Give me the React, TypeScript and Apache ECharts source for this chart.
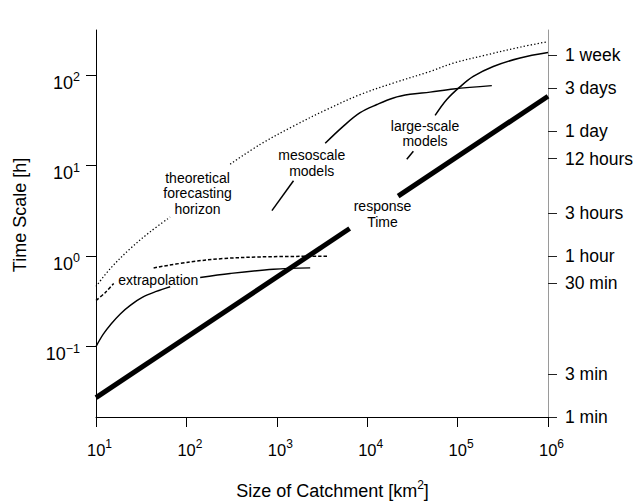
import React, { useEffect, useRef } from 'react';
import * as echarts from 'echarts';

const X_MIN = 10;
const X_MAX = 1e6;
const Y_MIN = 1 / 60;
const Y_MAX = 316;

// response time (thick line, broken for its label)
const responseLow = [[10, 0.0273], [6400, 2.02]];
const responseHigh = [[22000, 4.6], [1e6, 58.5]];

// theoretical forecasting horizon (dotted)
const horizonLow = [[10, 0.462], [14.4, 0.729], [23.9, 1.21], [39.8, 1.86], [66, 2.7]];
const horizonHigh = [[305, 10.4], [656, 17.2], [1530, 27.4], [3580, 41.8], [8360, 61.1], [19500, 82], [49700, 110], [89800, 136], [210000, 168], [491000, 204], [1e6, 235]];

// extrapolation upper bound (dashed)
const extrapDashLow = [[10, 0.324], [12.7, 0.397], [15.7, 0.499]];
const extrapDashHigh = [[43.4, 0.741], [110, 0.863], [255, 0.94], [655, 0.98], [3600, 1.0]];

// extrapolation (thin solid)
const extrapLow = [[10, 0.1], [12.04, 0.137], [14.76, 0.179], [18.56, 0.23], [23.94, 0.286], [32.5, 0.35], [46.4, 0.407], [66.2, 0.459]];
const extrapHigh = [[142, 0.581], [305, 0.643], [918, 0.716], [2340, 0.742]];

// mesoscale models
const mesoLow = [[883, 3.18], [1530, 6.81]];
const mesoHigh = [[3430, 17.7], [5460, 27.4], [8350, 38.5], [12800, 47.4], [19500, 56.1], [29800, 61.5], [49600, 65], [89800, 70.5], [239000, 76.7]];

// large-scale models
const largeLow = [[27400, 11.8], [32400, 14.4]];
const largeHigh = [[56400, 35.9], [75900, 53.8], [106000, 74.2], [149000, 97], [248000, 125], [491000, 155], [1e6, 178]];

const leftTickValues = [0.1, 1, 10, 100];
const xTickValues = [10, 100, 1e3, 1e4, 1e5, 1e6];
const rightTickValues = [0.016668, 0.05, 0.5, 1, 3, 12, 24, 72, 168];
const rightTickLabels = ['1 min', '3 min', '30 min', '1 hour', '3 hours', '12 hours', '1 day', '3 days', '1 week'];

const FONT = 'Liberation Sans, Arial, Helvetica, sans-serif';

const supLabel = (v: number) => {
  const e = Math.round(Math.log10(v));
  const es = e < 0 ? '\u2212' + Math.abs(e) : String(e);
  return `{b|10}{s|${es}}`;
};

export default function App() {
  const ref = useRef<HTMLDivElement>(null);
  useEffect(() => {
    if (!ref.current) return;
    const chart = echarts.init(ref.current, undefined, { renderer: 'svg' });

    const line = (data: number[][], width: number, type: any, smooth: boolean) => ({
      type: 'line',
      data,
      showSymbol: false,
      symbol: 'none',
      smooth: smooth ? 0.35 : false,
      xAxisIndex: 0,
      yAxisIndex: 0,
      lineStyle: { color: '#000', width, type },
      silent: true,
    });

    const annot = (text: string, x: number, y: number) => ({
      type: 'text',
      x,
      y,
      style: {
        text,
        fontSize: 14,
        fontFamily: FONT,
        fill: '#000',
        align: 'center',
        verticalAlign: 'middle',
        textAlign: 'center',
        textVerticalAlign: 'middle',
        lineHeight: 15.5,
      },
    });

    chart.setOption({
      animation: false,
      backgroundColor: '#fff',
      grid: { left: 96, right: 95, top: 30, bottom: 85, containLabel: false, outerBoundsMode: 'none' },
      xAxis: {
        type: 'log',
        logBase: 10,
        min: X_MIN,
        max: X_MAX,
        name: '{b|Size of Catchment [km}{s|2}{b|]}',
        nameLocation: 'middle',
        nameGap: 62,
        nameTextStyle: {
          padding: [0, 0, 0, 21],
          rich: {
            b: { fontSize: 18, fontFamily: FONT, color: '#000', padding: [3, 0, 0, 0] },
            s: { fontSize: 12, fontFamily: FONT, color: '#000', verticalAlign: 'top' },
          },
        },
        axisLine: { show: true, lineStyle: { color: '#000', width: 1 } },
        axisTick: { show: true, inside: false, length: 10, lineStyle: { color: '#000' }, customValues: xTickValues },
        axisLabel: {
          margin: 21,
          customValues: xTickValues,
          formatter: supLabel,
          rich: {
            b: { fontSize: 16.5, fontFamily: FONT, color: '#000', padding: [3, 0, 0, 7] },
            s: { fontSize: 12, fontFamily: FONT, color: '#000', verticalAlign: 'top' },
          },
        },
        splitLine: { show: false },
        minorTick: { show: false },
      },
      yAxis: [
        {
          type: 'log',
          logBase: 10,
          min: Y_MIN,
          max: Y_MAX,
          position: 'left',
          axisLine: { show: true, lineStyle: { color: '#000', width: 1 } },
          axisTick: { show: true, inside: false, length: 10, lineStyle: { color: '#000' }, customValues: leftTickValues },
          axisLabel: {
            margin: 16,
            customValues: leftTickValues,
            formatter: supLabel,
            padding: [12, 0, 0, 0],
            rich: {
              b: { fontSize: 18, fontFamily: FONT, color: '#000', padding: [3, 0, 0, 0] },
              s: { fontSize: 12.5, fontFamily: FONT, color: '#000', verticalAlign: 'top' },
            },
          },
          splitLine: { show: false },
          minorTick: { show: false },
        },
        {
          type: 'log',
          logBase: 10,
          min: Y_MIN,
          max: Y_MAX,
          position: 'right',
          axisLine: { show: true, lineStyle: { color: '#9a9a9a', width: 1 } },
          axisTick: { show: true, inside: false, length: 9, lineStyle: { color: '#222' }, customValues: rightTickValues },
          axisLabel: {
            margin: 17,
            customValues: rightTickValues,
            fontSize: 17.5,
            fontFamily: FONT,
            color: '#000',
            padding: [5, 0, 0, 0],
            formatter: (v: number) => {
              let best = 0;
              let bd = Infinity;
              rightTickValues.forEach((t, i) => {
                const d = Math.abs(Math.log(v / t));
                if (d < bd) { bd = d; best = i; }
              });
              return rightTickLabels[best];
            },
          },
          splitLine: { show: false },
          minorTick: { show: false },
        },
      ],
      series: [
        line(horizonLow, 1.3, [1.3, 2.2], true),
        line(horizonHigh, 1.3, [1.3, 2.2], true),
        line(extrapDashLow, 1.5, [3.5, 2], true),
        line(extrapDashHigh, 1.5, [3.5, 2], true),
        line(extrapLow, 1.4, 'solid', true),
        line(extrapHigh, 1.4, 'solid', true),
        line(mesoLow, 1.5, 'solid', false),
        line(mesoHigh, 1.5, 'solid', true),
        line(largeLow, 1.5, 'solid', false),
        line(largeHigh, 1.5, 'solid', true),
        line(responseLow, 5, 'solid', false),
        line(responseHigh, 5, 'solid', false),
      ],
      graphic: [
        {
          type: 'text',
          x: 20,
          y: 215,
          rotation: Math.PI / 2,
          style: {
            text: 'Time Scale [h]',
            fontSize: 18,
            fontFamily: FONT,
            fill: '#000',
            align: 'center',
            verticalAlign: 'middle',
            textAlign: 'center',
            textVerticalAlign: 'middle',
          },
        },
        annot('theoretical\nforecasting\nhorizon', 197.5, 193),
        annot('extrapolation', 158.3, 279.5),
        annot('mesoscale\nmodels', 311.7, 163),
        annot('large-scale\nmodels', 425, 133.5),
        annot('response\nTime', 382.5, 214),
      ],
    });
    return () => chart.dispose();
  }, []);
  return <div ref={ref} style={{ position: 'fixed', left: 0, top: 0, width: 643, height: 502 }} />;
}
